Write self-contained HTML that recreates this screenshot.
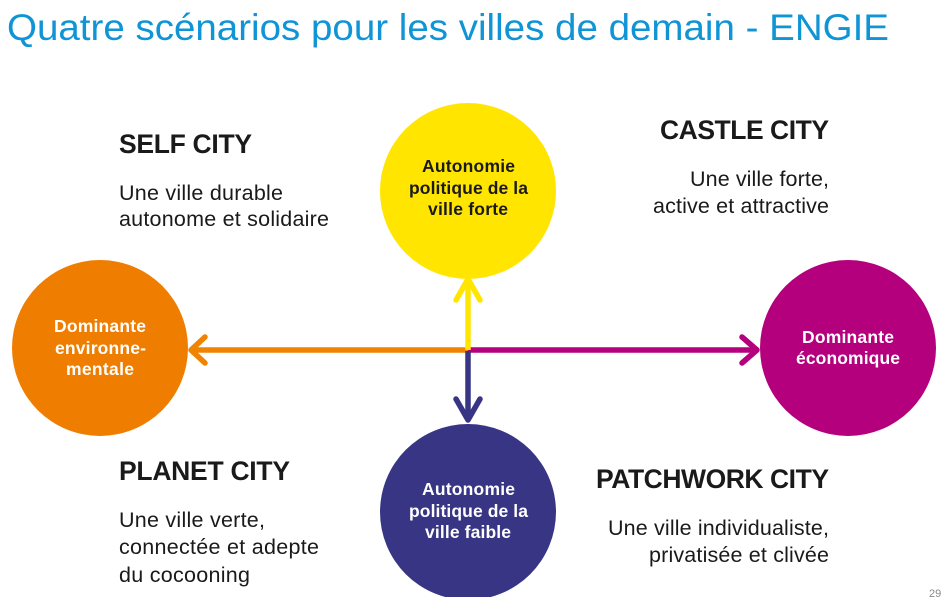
<!DOCTYPE html>
<html><head><meta charset="utf-8"><style>
html,body{margin:0;padding:0;background:#fff;}
body{width:942px;height:597px;overflow:hidden;position:relative;font-family:"Liberation Sans",Arial,sans-serif;}
</style></head><body>
<svg width="942" height="597" viewBox="0 0 942 597" xmlns="http://www.w3.org/2000/svg" style="position:absolute;left:0;top:0">
<text x="7" y="40" font-family="Liberation Sans, sans-serif" font-size="37" fill="#0f94d6" textLength="882" lengthAdjust="spacingAndGlyphs">Quatre scénarios pour les villes de demain - ENGIE</text>

<circle cx="468" cy="191" r="88" fill="#ffe500"/>
<circle cx="100" cy="348" r="88" fill="#ef7d00"/>
<circle cx="848" cy="348" r="88" fill="#b5007e"/>
<circle cx="468" cy="512" r="88" fill="#373584"/>

<g stroke-width="5.5" fill="none" stroke-linecap="round" stroke-linejoin="round">
<line x1="468" y1="350" x2="192" y2="350" stroke="#f08300" stroke-linecap="butt"/>
<polyline points="205,337 191,350 205,363" stroke="#f08300"/>
<line x1="468" y1="350" x2="756" y2="350" stroke="#b5007e" stroke-linecap="butt"/>
<polyline points="742,337 757,350 742,363" stroke="#b5007e"/>
<line x1="468" y1="350" x2="468" y2="280" stroke="#ffe500" stroke-linecap="butt"/>
<polyline points="456,300 468,279 480,300" stroke="#ffe500"/>
<line x1="468" y1="351" x2="468" y2="420" stroke="#373584" stroke-linecap="butt"/>
<polyline points="456,399 468,420 480,399" stroke="#373584"/>
</g>

<g font-family="Liberation Sans, sans-serif" font-weight="bold" font-size="17.5" lengthAdjust="spacingAndGlyphs">
<text fill="#1a1a1a" x="422" y="172" textLength="93">Autonomie</text>
<text fill="#1a1a1a" x="409" y="194" textLength="119">politique de la</text>
<text fill="#1a1a1a" x="428" y="215" textLength="80">ville forte</text>
<text fill="#fff" x="54" y="332" textLength="92">Dominante</text>
<text fill="#fff" x="55" y="354" textLength="91">environne-</text>
<text fill="#fff" x="66" y="375" textLength="68">mentale</text>
<text fill="#fff" x="802" y="343" textLength="92">Dominante</text>
<text fill="#fff" x="796" y="364" textLength="104">économique</text>
<text fill="#fff" x="422" y="495" textLength="93">Autonomie</text>
<text fill="#fff" x="409" y="517" textLength="119">politique de la</text>
<text fill="#fff" x="425" y="538" textLength="86">ville faible</text>
</g>

<g font-family="Liberation Sans, sans-serif" fill="#1a1a1a" lengthAdjust="spacingAndGlyphs">
<text x="119" y="153" font-weight="bold" font-size="26.5" textLength="133">SELF CITY</text>
<text x="119" y="200" font-size="21.5" textLength="164">Une ville durable</text>
<text x="119" y="226" font-size="21.5" textLength="210">autonome et solidaire</text>
<text x="660" y="139" font-weight="bold" font-size="26.5" textLength="169">CASTLE CITY</text>
<text x="690" y="186" font-size="21.5" textLength="139">Une ville forte,</text>
<text x="653" y="213" font-size="21.5" textLength="176">active et attractive</text>
<text x="119" y="480" font-weight="bold" font-size="26.5" textLength="171">PLANET CITY</text>
<text x="119" y="527" font-size="21.5" textLength="146">Une ville verte,</text>
<text x="119" y="554" font-size="21.5" textLength="200">connectée et adepte</text>
<text x="119" y="582" font-size="21.5" textLength="131">du cocooning</text>
<text x="596" y="488" font-weight="bold" font-size="26.5" textLength="233">PATCHWORK CITY</text>
<text x="608" y="535" font-size="21.5" textLength="221">Une ville individualiste,</text>
<text x="649" y="562" font-size="21.5" textLength="180">privatisée et clivée</text>
<text x="929" y="597" font-size="11" fill="#888">29</text>
</g>
</svg>
</body></html>
